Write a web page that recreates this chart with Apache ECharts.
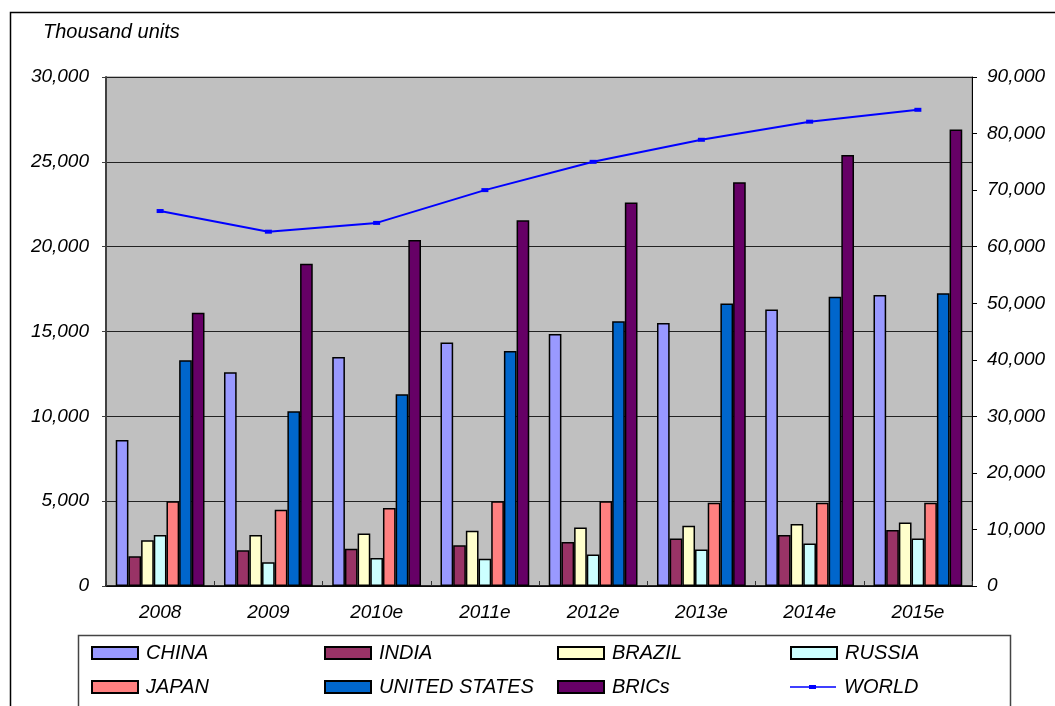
<!DOCTYPE html>
<html>
<head>
<meta charset="utf-8">
<script src="https://cdn.jsdelivr.net/npm/echarts@6/dist/echarts.min.js"></script>
<style>
  html, body { margin: 0; padding: 0; background: #fff; }
  #chart { width: 1055px; height: 706px; }
</style>
</head>
<body>
<div id="chart"></div>
<script>
// Categories (years, "e" = estimate)
const years = ['2008', '2009', '2010e', '2011e', '2012e', '2013e', '2014e', '2015e'];

// Vehicle sales, thousand units (left axis)
const china        = [8600, 12600, 13500, 14350, 14850, 15500, 16300, 17150];
const india        = [1750, 2100, 2200, 2400, 2600, 2800, 3000, 3300];
const brazil       = [2700, 3000, 3100, 3250, 3450, 3550, 3650, 3750];
const russia       = [3000, 1400, 1650, 1600, 1850, 2150, 2500, 2800];
const japan        = [5000, 4500, 4600, 5000, 5000, 4900, 4900, 4900];
const unitedStates = [13300, 10300, 11300, 13850, 15600, 16650, 17050, 17250];
const brics        = [16100, 19000, 20400, 21550, 22600, 23800, 25400, 26900];

// World total, thousand units (right axis)
const world = [66300, 62650, 64200, 70000, 75000, 78900, 82100, 84200];

const FONT = "'Liberation Sans', Arial, sans-serif";
const txt = { fontFamily: FONT, fontStyle: 'italic', color: '#000' };

const barSeries = [
  { name: 'CHINA', data: china, color: '#9999FF' },
  { name: 'INDIA', data: india, color: '#993366' },
  { name: 'BRAZIL', data: brazil, color: '#FFFFCC' },
  { name: 'RUSSIA', data: russia, color: '#CCFFFF' },
  { name: 'JAPAN', data: japan, color: '#FF8080' },
  { name: 'UNITED STATES', data: unitedStates, color: '#0066CC' },
  { name: 'BRICs', data: brics, color: '#660066' }
];

const series = barSeries.map(s => ({
  name: s.name,
  type: 'bar',
  yAxisIndex: 0,
  data: s.data,
  barGap: '0%',
  barCategoryGap: '18%',
  itemStyle: { color: s.color, borderColor: '#000', borderWidth: 1.5 },
  emphasis: { disabled: true }
}));

series.push({
  name: 'WORLD',
  type: 'line',
  yAxisIndex: 1,
  data: world,
  symbol: 'rect',
  symbolSize: [7, 4],
  lineStyle: { color: '#0000FF', width: 2 },
  itemStyle: { color: '#0000FF' },
  z: 5,
  emphasis: { disabled: true }
});

// Legend laid out as a 4 x 2 grid, one legend block per entry
const legendOrder = ['CHINA', 'INDIA', 'BRAZIL', 'RUSSIA', 'JAPAN', 'UNITED STATES', 'BRICs', 'WORLD'];
// thin line with a small square in the middle for the WORLD entry
const worldIcon = 'path://M0,1.2L46,1.2L46,2.8L0,2.8Z M19,0L26,0L26,4L19,4Z';
const legends = legendOrder.map((name, i) => {
  const isLine = name === 'WORLD';
  return {
    data: [name],
    left: 86 + (i % 4) * 233,
    top: 638 + Math.floor(i / 4) * 34,
    itemWidth: 46,
    itemHeight: isLine ? 4 : 12,
    itemGap: 0,
    icon: isLine ? worldIcon : 'rect',
    selectedMode: false,
    textStyle: Object.assign({ fontSize: 20, padding: [0, 0, 0, 3] }, txt)
  };
});

const chart = echarts.init(document.getElementById('chart'), null, { renderer: 'canvas' });

chart.setOption({
  backgroundColor: '#fff',
  animation: false,
  graphic: [
    { type: 'rect', shape: { x: 10.5, y: 12.5, width: 1100, height: 800 },
      style: { fill: 'none', stroke: '#000', lineWidth: 1.5 }, silent: true, z: -10 },
    { type: 'rect', shape: { x: 78.5, y: 635.5, width: 932, height: 200 },
      style: { fill: 'none', stroke: '#444', lineWidth: 1.5 }, silent: true, z: -10 },
    { type: 'text', left: 43, top: 22,
      style: { text: 'Thousand units', font: 'italic 20px ' + FONT, fill: '#000' }, silent: true }
  ],
  grid: {
    left: 106, right: 83, top: 77, bottom: 120,
    show: true, backgroundColor: '#C0C0C0', borderColor: '#808080', borderWidth: 1
  },
  legend: legends,
  xAxis: {
    type: 'category',
    data: years,
    axisLine: { lineStyle: { color: '#000', width: 1.5 } },
    axisTick: { show: true, inside: true, length: 5, alignWithLabel: false, lineStyle: { color: '#333' } },
    axisLabel: Object.assign({ fontSize: 19, margin: 17 }, txt),
    splitLine: { show: false }
  },
  yAxis: [
    {
      type: 'value', min: 0, max: 30000, interval: 5000, position: 'left',
      axisLine: { show: true, lineStyle: { color: '#404040', width: 2 } },
      axisTick: { show: true, length: 4, lineStyle: { color: '#404040' } },
      axisLabel: Object.assign({ fontSize: 19, margin: 17,
        formatter: v => v.toLocaleString('en-US') }, txt),
      splitLine: { show: true, lineStyle: { color: '#222', width: 1 } }
    },
    {
      type: 'value', min: 0, max: 90000, interval: 10000, position: 'right',
      axisLine: { show: true, lineStyle: { color: '#000', width: 1 } },
      axisTick: { show: true, length: 5, lineStyle: { color: '#000' } },
      axisLabel: Object.assign({ fontSize: 19, margin: 15,
        formatter: v => v.toLocaleString('en-US') }, txt),
      splitLine: { show: false }
    }
  ],
  series: series
});
</script>
</body>
</html>
